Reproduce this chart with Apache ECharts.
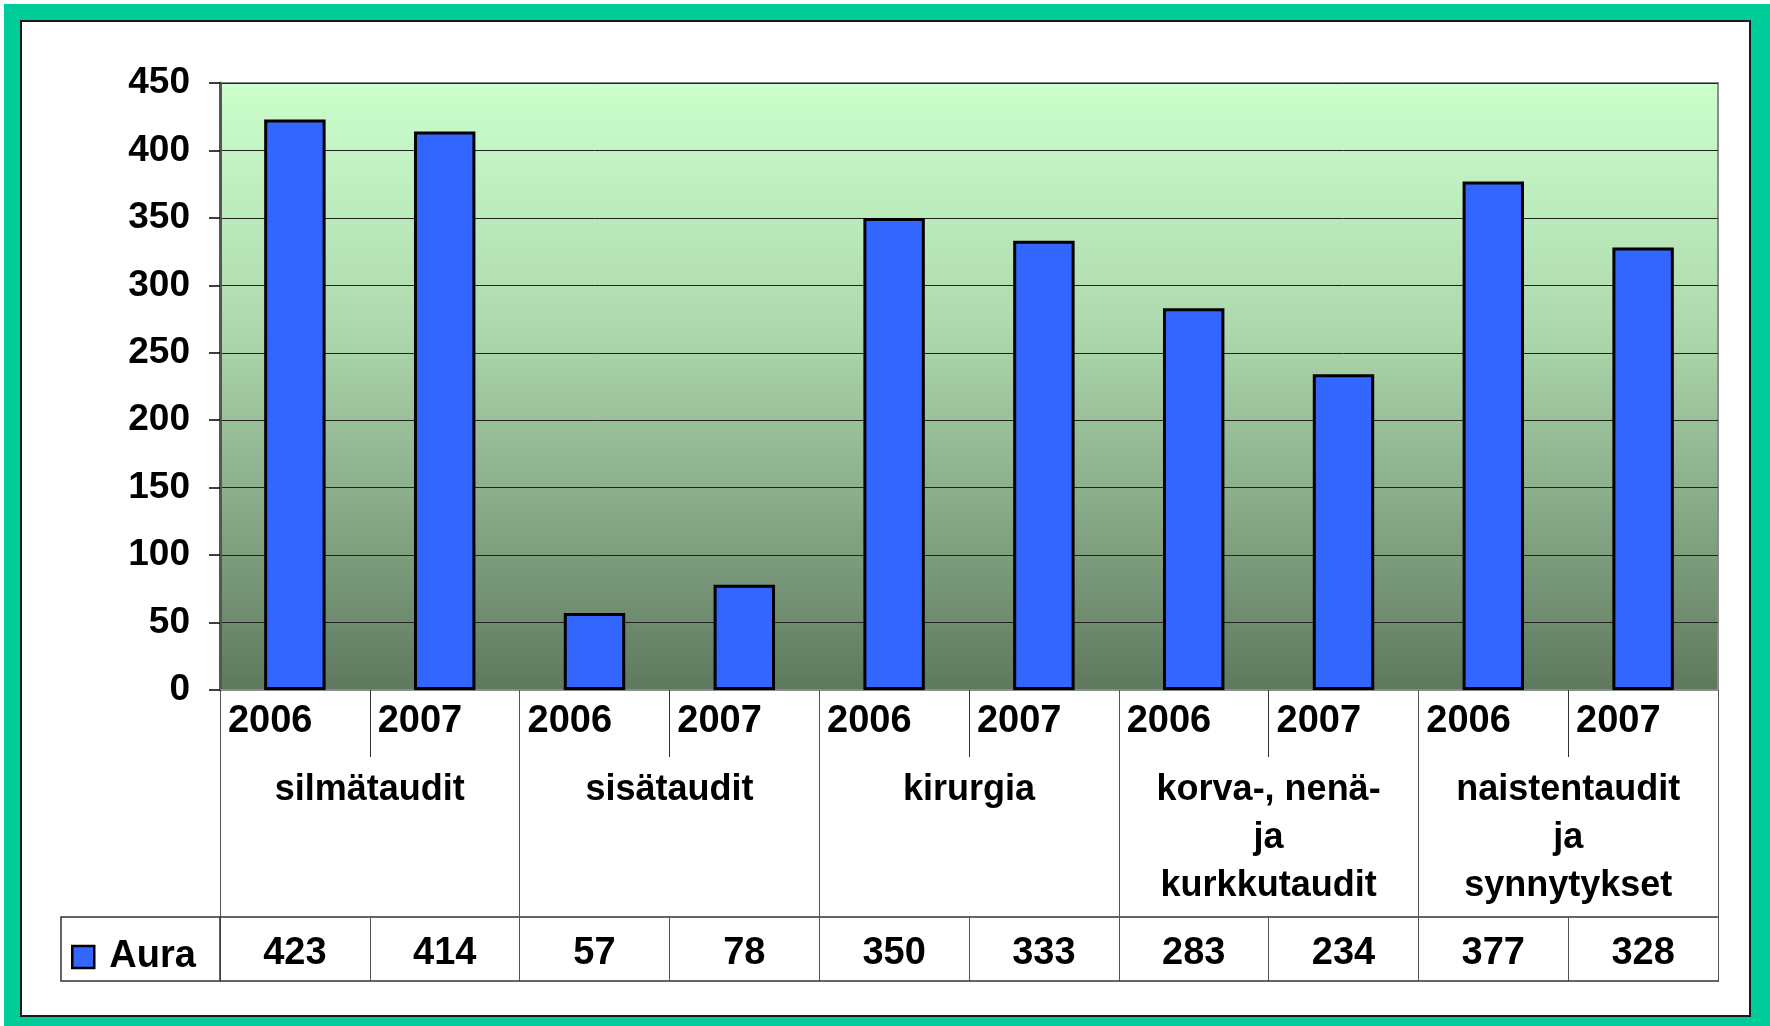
<!DOCTYPE html>
<html>
<head>
<meta charset="utf-8">
<script src="https://cdn.jsdelivr.net/npm/echarts@6/dist/echarts.min.js"></script>
<style>
  html, body { margin: 0; padding: 0; background: #fff; }
  #frame { position: absolute; left: 4px; top: 4px; width: 1766px; height: 1022px; background: #00cc99; }
  #inner { position: absolute; left: 16px; top: 16px; width: 1731px; height: 997px; box-sizing: border-box;
           border: 2px solid #1a1a1a; background: #fff; }
  #chart { position: absolute; left: 0; top: 0; width: 1770px; height: 1026px; }
</style>
</head>
<body>
<div id="frame"><div id="inner"></div></div>
<div id="chart"></div>
<script>
const groups = ['silmätaudit', 'sisätaudit', 'kirurgia', 'korva-, nenä-\nja\nkurkkutaudit', 'naistentaudit\nja\nsynnytykset'];
const years = ['2006', '2007'];
const aura = [423, 414, 57, 78, 350, 333, 283, 234, 377, 328];
const yTicks = { min: 0, max: 450, step: 50 };

const FONT = 'Liberation Sans, Arial, sans-serif';
const categories = [];
groups.forEach(function () { years.forEach(function (y) { categories.push(y); }); });

// plot box in page pixels
const G = { left: 220, right: 1718, top: 83, bottom: 690 };
const tableBottom = 981;
const valueRowTop = 917;

const chart = echarts.init(document.getElementById('chart'), null, { renderer: 'canvas' });

const option = {
  animation: false,
  textStyle: { fontFamily: FONT },
  grid: {
    left: G.left, right: 1770 - G.right, top: G.top, bottom: 1026 - G.bottom,
    show: true,
    borderColor: '#8c8c8c',
    borderWidth: 2,
    backgroundColor: {
      type: 'linear', x: 0, y: 0, x2: 0, y2: 1,
      colorStops: [
        { offset: 0, color: '#ccffcc' },
        { offset: 0.4, color: '#aed9ae' },
        { offset: 0.7, color: '#88aa88' },
        { offset: 1, color: '#5e785e' }
      ]
    }
  },
  legend: {
    left: 71, top: 938,
    itemWidth: 22, itemHeight: 22,
    icon: 'rect',
    padding: 0,
    itemStyle: { borderColor: '#000', borderWidth: 2.5 },
    formatter: function (name) { return '{t|' + name + '}'; },
    textStyle: {
      rich: { t: { fontFamily: FONT, fontSize: 38, fontWeight: 'bold', color: '#000', lineHeight: 38, padding: [0, 0, 0, 10] } }
    },
    data: ['Aura']
  },
  xAxis: [
    {
      type: 'category',
      data: categories,
      position: 'bottom',
      axisLine: { lineStyle: { color: '#8c8c8c', width: 2 } },
      axisTick: { show: true, interval: 0, length: 67, lineStyle: { color: '#333', width: 1 } },
      axisLabel: {
        interval: 0, margin: 13,
        formatter: function (v) { return '{y|' + v + '}'; },
        rich: { y: { width: 134, align: 'left', fontFamily: FONT, fontSize: 38, fontWeight: 'bold', color: '#000', lineHeight: 38 } }
      }
    },
    {
      type: 'category',
      data: groups,
      position: 'bottom',
      axisLine: { show: false },
      axisTick: { show: true, interval: 0, length: tableBottom - G.bottom, lineStyle: { color: '#555', width: 1 } },
      axisLabel: {
        interval: 0, margin: 76,
        fontFamily: FONT, fontSize: 36, fontWeight: 'bold', color: '#000', lineHeight: 48, align: 'center'
      }
    },
    {
      type: 'category',
      data: aura.map(String),
      position: 'bottom',
      offset: valueRowTop - G.bottom,
      axisLine: { show: true, lineStyle: { color: '#333', width: 1.5 } },
      axisTick: { show: true, interval: 0, length: tableBottom - valueRowTop, lineStyle: { color: '#555', width: 1 } },
      axisLabel: {
        interval: 0, margin: 18,
        fontFamily: FONT, fontSize: 38, fontWeight: 'bold', color: '#000', lineHeight: 38
      }
    }
  ],
  yAxis: {
    type: 'value',
    min: yTicks.min, max: yTicks.max, interval: yTicks.step,
    axisLine: { show: true, lineStyle: { color: '#555', width: 3 } },
    axisTick: { show: true, length: 11, lineStyle: { color: '#000', width: 1.5 } },
    axisLabel: { margin: 30, fontFamily: FONT, fontSize: 37, fontWeight: 'bold', color: '#000' },
    splitLine: { show: true, lineStyle: { color: '#222', width: 1 } }
  },
  series: [{
    name: 'Aura',
    type: 'bar',
    xAxisIndex: 0,
    barWidth: '41%',
    data: aura,
    itemStyle: { color: '#3366ff', borderColor: '#000', borderWidth: 3 }
  }],
  graphic: [
    {
      type: 'rect', z: 10, silent: true,
      shape: { x: 61, y: valueRowTop, width: G.left - 61, height: tableBottom - valueRowTop },
      style: { fill: null, stroke: '#333', lineWidth: 1.5 }
    },
    {
      type: 'line', z: 10, silent: true,
      shape: { x1: G.left, y1: tableBottom, x2: G.right + 1, y2: tableBottom },
      style: { stroke: '#333', lineWidth: 1.5 }
    }
  ]
};

chart.setOption(option);
</script>
</body>
</html>
